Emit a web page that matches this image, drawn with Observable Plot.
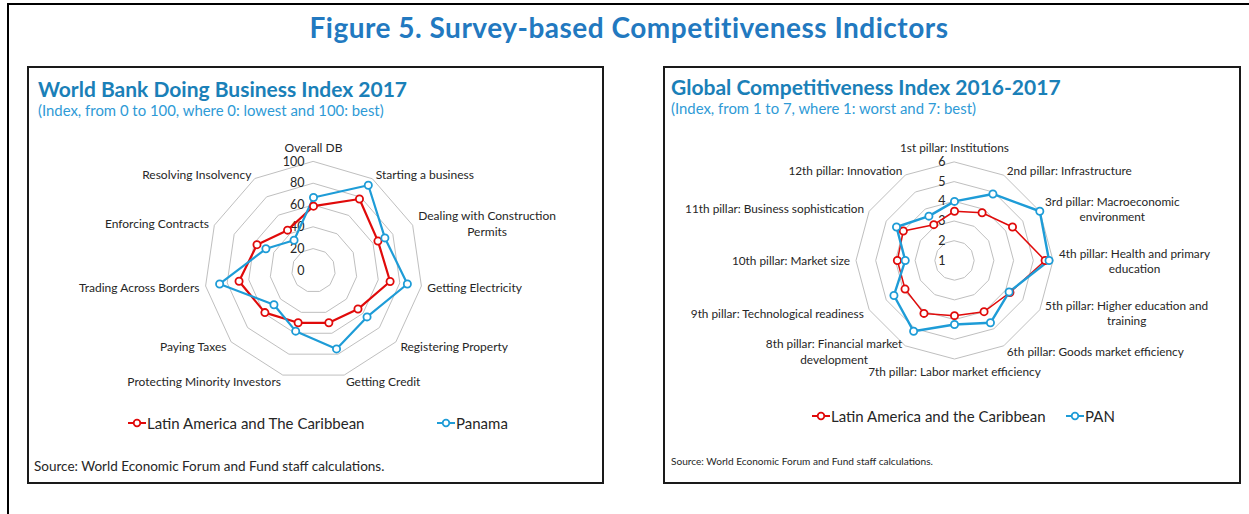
<!DOCTYPE html>
<html><head><meta charset="utf-8">
<script src="https://cdn.jsdelivr.net/npm/d3@7"></script>
<script src="https://cdn.jsdelivr.net/npm/@observablehq/plot@0.6"></script>
<style>
body{margin:0;width:1249px;height:514px;position:relative;overflow:hidden;background:#fff;font-family:Lato,"Open Sans",sans-serif;color:#262626;}
.abs{position:absolute;white-space:nowrap;}
.frame{position:absolute;left:7px;top:3px;width:1300px;height:600px;border-left:2px solid #000;border-top:2px solid #000;}
.panel{position:absolute;border:2px solid #1a1a1a;box-sizing:border-box;background:#fff;}
.ftitle{left:0;width:1258px;text-align:center;top:9px;line-height:36px;font-size:28px;letter-spacing:0.5px;font-weight:700;color:#2279C0;}
.ptitle{font-weight:700;font-size:21px;line-height:26px;color:#1A80B8;}
.psub{font-size:14.9px;line-height:18px;color:#2E9AD6;}
.leg{display:flex;align-items:center;font-size:15px;line-height:20px;color:#262626;}
.src{color:#262626;}
</style></head><body>
<div class="frame"></div>
<div class="abs ftitle">Figure 5. Survey-based Competitiveness Indictors</div>
<div class="panel" style="left:27px;top:66px;width:577px;height:418px;"></div>
<div class="panel" style="left:663px;top:66px;width:578px;height:418px;"></div>
<div class="abs ptitle" style="left:38px;top:76px;">World Bank Doing Business Index 2017</div>
<div class="abs psub" style="left:38px;top:101px;">(Index, from 0 to 100, where 0: lowest and 100: best)</div>
<div class="abs ptitle" style="left:671px;top:74px;">Global Competitiveness Index 2016-2017</div>
<div class="abs psub" style="left:671px;top:99px;">(Index, from 1 to 7, where 1: worst and 7: best)</div>
<div id="c1" class="abs" style="left:28px;top:125px;"></div>
<div id="c2" class="abs" style="left:664px;top:125px;"></div>
<div id="l1a" class="abs leg" style="left:128px;top:413px;"></div>
<div id="l1b" class="abs leg" style="left:437px;top:413px;"></div>
<div id="l2a" class="abs leg" style="left:812px;top:406px;"></div>
<div id="l2b" class="abs leg" style="left:1066px;top:406px;"></div>
<div class="abs src" style="left:34px;top:458px;font-size:13.5px;line-height:16px;">Source: World Economic Forum and Fund staff calculations.</div>
<div class="abs src" style="left:671px;top:454px;font-size:10.1px;line-height:14px;">Source: World Economic Forum and Fund staff calculations.</div>
<script>
// ---- Data: World Bank Doing Business 2017 (0-100) ----
const dbAxes = ["Overall DB","Starting a business","Dealing with Construction\nPermits","Getting Electricity","Registering Property","Getting Credit","Protecting Minority Investors","Paying Taxes","Trading Across Borders","Enforcing Contracts","Resolving Insolvency"];
const dbLAC = [59, 78, 65, 71, 54, 50, 50, 59, 69, 57, 44];
const dbPanama = [67, 93, 72, 87, 65, 75, 58, 48, 87, 48, 33];
const dbTicks = [0, 20, 40, 60, 80, 100];
const dbSeries = ["Latin America and The Caribbean", "Panama"];

// ---- Data: Global Competitiveness Index 2016-2017 (1-7) ----
const gciAxes = ["1st pillar: Institutions","2nd pillar: Infrastructure","3rd pillar: Macroeconomic\nenvironment","4th pillar: Health and primary\neducation","5th pillar: Higher education and\ntraining","6th pillar: Goods market efficiency","7th pillar: Labor market efficiency","8th pillar: Financial market\ndevelopment","9th pillar: Technological readiness","10th pillar: Market size","11th pillar: Business sophistication","12th pillar: Innovation"];
const gciLAC = [3.5, 3.8, 4.4, 5.6, 4.25, 4.0, 3.8, 4.1, 3.9, 3.9, 4.0, 3.1];
const gciPAN = [4.0, 4.9, 6.0, 5.8, 4.2, 4.65, 4.25, 5.15, 4.55, 3.5, 4.4, 3.6];
const gciTicks = [1, 2, 3, 4, 5, 6];
const gciSeries = ["Latin America and the Caribbean", "PAN"];

const RED = "#E00A0A", BLUE = "#1E9CD7", GRID = "#BFBFBF", TXT = "#262626";

const ctx = document.createElement("canvas").getContext("2d");
function textW(s, font) { ctx.font = font; return Math.max(...s.split("\n").map(l => ctx.measureText(l).width)); }

function radar({axes, series, ticks, cx, cy, rpx, width, height, fs, tfs}) {
  const n = axes.length, min = ticks[0], max = ticks[ticks.length - 1], R = max - min;
  const pol = (i, v) => { const a = 2 * Math.PI * i / n, r = v - min; return {x: r * Math.sin(a), y: r * Math.cos(a)}; };
  const rings = ticks.filter(t => t > min).flatMap(t => axes.map((_, i) => ({t, ...pol(i, t)})));
  const pts = series.map(s => s.values.map((v, i) => ({s: s.name, v, ...pol(i, v)})));
  const font = `${fs}px Lato`;
  const labelMarks = axes.map((lab, i) => {
    const a = 2 * Math.PI * i / n, s = Math.sin(a), c = Math.cos(a);
    const off = 6;
    const w = textW(lab, font);
    let dx = off * s, dy = -off * c, lineAnchor = "middle";
    if (Math.abs(s) < 0.1) { lineAnchor = c > 0 ? "bottom" : "top"; if (c > 0) dy -= 4; }
    else dx += (s > 0 ? 1 : -1) * w / 2;
    const p = pol(i, max);
    return Plot.text([{...p, lab}], {x: "x", y: "y", text: "lab", textAnchor: "middle", lineAnchor, dx, dy, fontSize: fs, fill: TXT, lineHeight: 1.3});
  });
  return Plot.plot({
    width, height, margin: 0,
    x: {domain: [-R, R], range: [cx - rpx, cx + rpx], axis: null},
    y: {domain: [-R, R], range: [cy + rpx, cy - rpx], axis: null},
    style: {fontFamily: "Lato, sans-serif", background: "transparent", overflow: "visible"},
    marks: [
      Plot.line(rings, {x: "x", y: "y", z: "t", curve: "linear-closed", stroke: GRID, strokeWidth: 1}),
      Plot.text(ticks, {x: () => 0, y: t => t - min, text: t => String(t), textAnchor: "end", dx: -9, fontSize: tfs, fill: TXT}),
      ...series.map((s, k) => Plot.line(pts[k], {x: "x", y: "y", curve: "linear-closed", stroke: s.color, strokeWidth: s.sw})),
      ...series.map((s, k) => Plot.dot(pts[k], {x: "x", y: "y", r: 3.6, fill: "white", stroke: s.color, strokeWidth: 1.8})),
      ...labelMarks
    ]
  });
}

document.getElementById("c1").append(radar({
  axes: dbAxes, ticks: dbTicks, cx: 285, cy: 145, rpx: 109, width: 574, height: 280, fs: 12, tfs: 12.5,
  series: [{name: dbSeries[0], values: dbLAC, color: RED, sw: 2.2}, {name: dbSeries[1], values: dbPanama, color: BLUE, sw: 2.2}]
}));
document.getElementById("c2").append(radar({
  axes: gciAxes, ticks: gciTicks, cx: 290, cy: 135, rpx: 98.5, width: 575, height: 270, fs: 11.8, tfs: 12.5,
  series: [{name: gciSeries[0], values: gciLAC, color: RED, sw: 1.5}, {name: gciSeries[1], values: gciPAN, color: BLUE, sw: 2.4}]
}));

function legItem(id, name, color) {
  const el = document.getElementById(id);
  el.innerHTML = `<svg width="18" height="10" style="margin-right:1px"><line x1="0" x2="18" y1="5" y2="5" stroke="${color}" stroke-width="2"/><circle cx="9" cy="5" r="3.3" fill="white" stroke="${color}" stroke-width="1.8"/></svg><span>${name}</span>`;
}
legItem("l1a", dbSeries[0], RED);
legItem("l1b", dbSeries[1], BLUE);
legItem("l2a", gciSeries[0], RED);
legItem("l2b", gciSeries[1], BLUE);
</script>
</body></html>
